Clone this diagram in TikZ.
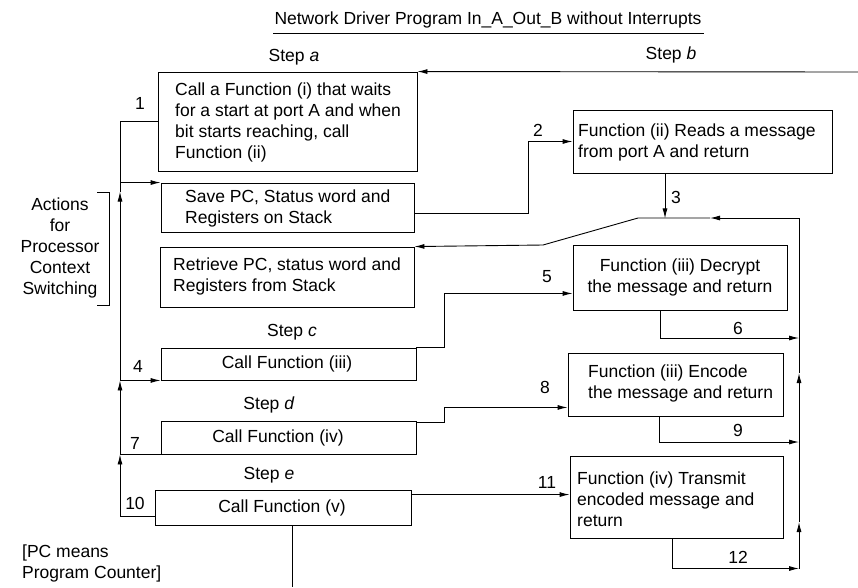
\documentclass[tikz,border=0pt]{standalone}
\usepackage{fontspec}
\setmainfont{Liberation Sans}
\usetikzlibrary{arrows.meta,calc}
\begin{document}
\begin{tikzpicture}[x=1pt,y=-1pt,
  every node/.append style={font=\fontsize{17.5}{21}\selectfont, inner sep=0pt},
  box/.style={draw, line width=0.9pt},
  ln/.style={line width=0.9pt},
  arr/.style={line width=0.9pt, -{Latex[length=10pt,width=5pt]}},
  txt/.style={anchor=west, align=left}
]
\useasboundingbox (0,0) rectangle (858,587);

% title
\node (title) at (488,20) {Network Driver Program In\_A\_Out\_B without Interrupts};
\draw[ln] ($(title.south west)+(-1,5)$) -- ($(title.south east)+(2,5)$);

% step labels
\node (stepa) at (294,57) {Step \textit{a}};
\node (stepb) at (671,55) {Step \textit{b}};
\node (stepc) at (292,332) {Step \textit{c}};
\node (stepd) at (269,405) {Step \textit{d}};
\node (stepe) at (269,475) {Step \textit{e}};

% left boxes
\node[box, minimum width=259pt, minimum height=99pt] (b1) at (287.5,121.5) {};
\node[txt] (t1) at (175,122.5) {Call a Function (i) that waits\\for a start at port A and when\\bit starts reaching, call\\Function (ii)};
\node[box, minimum width=253pt, minimum height=49pt] (b2) at (287.5,207.5) {};
\node[txt] (t2) at (185,208) {Save PC, Status word and\\Registers on Stack};
\node[box, minimum width=254pt, minimum height=60pt] (b3) at (287,277) {};
\node[txt] (t3) at (173,276) {Retrieve PC, status word and\\Registers from Stack};
\node[box, minimum width=255pt, minimum height=32pt] (bc) at (288.5,364) {};
\node (tc) at (287,364) {Call Function (iii)};
\node[box, minimum width=255pt, minimum height=33pt] (bd) at (288.5,437.5) {};
\node (td) at (278,438) {Call Function (iv)};
\node[box, minimum width=256pt, minimum height=35pt] (be) at (283,507.5) {};
\node (te) at (282,508) {Call Function (v)};

% right boxes
\node[box, minimum width=259pt, minimum height=63pt] (f2) at (702.5,141.5) {};
\node[txt] (tf2) at (578,142.5) {Function (ii) Reads a message\\from port A and return};
\node[box, minimum width=214pt, minimum height=65pt] (f3) at (680,277.5) {};
\node[align=center] (tf3) at (680,277) {Function (iii) Decrypt\\the message and return};
\node[box, minimum width=215pt, minimum height=63pt] (f4) at (675.5,384.5) {};
\node[txt] (tf4) at (588,383.5) {Function (iii) Encode\\the message and return};
\node[box, minimum width=213pt, minimum height=82pt] (f5) at (676.5,497) {};
\node[txt] (tf5) at (577,499) {Function (iv) Transmit\\encoded message and\\return};

% side notes
\node[align=center] (act) at (60,248) {Actions\\for\\Processor\\Context\\Switching};
\draw[ln] (97,192) -- (109,192) -- (109,305) -- (97,305);
\node[txt] (pc) at (22,563) {[PC means\\Program Counter]};

% numbers
\node (n1) at (140,103) {1};
\node (n2) at (538,130) {2};
\node (n3) at (676,197) {3};
\node (n4) at (138,366) {4};
\node (n5) at (547,277) {5};
\node (n6) at (738,328) {6};
\node (n7) at (135,443) {7};
\node (n8) at (545,387) {8};
\node (n9) at (738,430) {9};
\node (n10) at (135,503) {10};
\node (n11) at (547,482) {11};
\node (n12) at (738,557) {12};

% coordinates
\coordinate (topR) at (858,72);
\coordinate (L1) at (b1.west -| 120,0);
\coordinate (Lb) at (b2.north west -| 120,0);
\coordinate (Lba) at ($(Lb)+(0,9)$);
\coordinate (Lc) at (bc.south west -| 120,0);
\coordinate (Ld) at (bd.south west -| 120,0);
\coordinate (e10) at ($(be.south west)+(0,-9)$);
\coordinate (Rtop) at (799,218);
\coordinate (Rmid) at (710,218);
\coordinate (Dk1) at (638,218);
\coordinate (Dk2) at (543,245);
\coordinate (J3) at ($(f2.south)+(-37.5,45)$);
\coordinate (R6) at (799,338);
\coordinate (R9) at (799,442);
\coordinate (R12) at (799,568.5);
\coordinate (Ru1) at (799,373);
\coordinate (Ru2) at (799,522);
\coordinate (b2e) at ($(b2.east)+(0,6)$);
\coordinate (c2) at ($(f2.west)+(-44,0)$);
\coordinate (c5) at ($(f3.south west)+(-128,-17)$);
\coordinate (f3in) at ($(f3.south west)+(0,-17)$);
\coordinate (bde) at ($(bd.north east)+(0,2)$);
\coordinate (c8) at ($(f4.south west)+(-123,-9)$);
\coordinate (f4in) at ($(f4.south west)+(0,-9)$);
\coordinate (bee) at ($(be.north east)+(0,5)$);
\coordinate (f5in) at ($(f5.north west)+(0,39)$);
\coordinate (bot) at ($(be.south)+(9,62)$);

% top connector
\draw[arr] (topR) -- (b1.north east);

% left loop
\draw[arr] (e10) -| (Ld);
\draw[arr] (Ld) -- (Lc);
\draw[arr] (Lc) -- (Lba);
\draw[ln] (Lba) -- (L1) -- (b1.west);
\draw[arr] (Lb) -- (b2.north west);
\draw[arr] (Lc) -- (bc.south west);
\draw[ln] (Ld) -- (bd.south west);

% step 2 and 3
\draw[arr] (b2e) -| (c2) -- (f2.west);
\draw[arr] ($(f2.south)+(-37.5,0)$) -- (J3);

% return to retrieve
\draw[arr] (Rtop) -- (Rmid);
\draw[arr] (Rmid) -- (Dk1) -- (Dk2) -- (b3.north east);

% right vertical
\draw[arr] (R12) -- (Ru2);
\draw[arr] (Ru2) -- (Ru1);
\draw[ln] (Ru1) -- (Rtop);

% step 5,6
\draw[arr] (bc.north east) -| (c5) -- (f3in);
\draw[arr] ($(f3.south)+(-20,0)$) |- (R6);
% step 8,9
\draw[arr] (bde) -| (c8) -- (f4in);
\draw[arr] ($(f4.south)+(-16.5,0)$) |- (R9);
% step 11,12
\draw[arr] (bee) -- (f5in);
\draw[arr] ($(f5.south)+(-4.5,0)$) |- (R12);
% bottom exit
\draw[ln] (be.south -| bot) -- (bot);
\end{tikzpicture}
\end{document}
